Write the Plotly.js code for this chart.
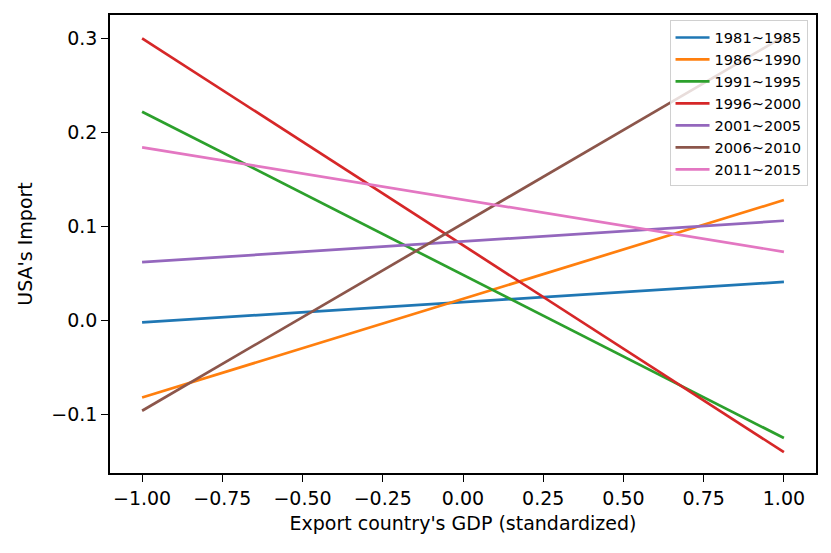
<!DOCTYPE html>
<html>
<head>
<meta charset="utf-8">
<script src="https://cdn.plot.ly/plotly-3.0.1.min.js"></script>
<style>
  body { margin: 0; background: #fff; }
  #grafico { width: 831px; height: 553px; }
</style>
</head>
<body>
<div id="grafico"></div>
<script>
// GDP estandarizado en los extremos
var equis = [-1, 1];

var periodos = ["1981~1985", "1986~1990", "1991~1995", "1996~2000",
                "2001~2005", "2006~2010", "2011~2015"];

var y8185 = [-0.002, 0.041];
var y8690 = [-0.082, 0.128];
var y9195 = [0.222, -0.125];
var y9600 = [0.300, -0.140];
var y0105 = [0.062, 0.106];
var y0610 = [-0.096, 0.302];
var y1115 = [0.184, 0.073];

var series = [y8185, y8690, y9195, y9600, y0105, y0610, y1115];
var colores = ["#1f77b4", "#ff7f0e", "#2ca02c", "#d62728",
               "#9467bd", "#8c564b", "#e377c2"];

var data = [];
for (let i = 0; i < series.length; i++) {
  data.push({
    x: equis,
    y: series[i],
    type: 'scatter',
    mode: 'lines',
    name: periodos[i],
    line: {color: colores[i], width: 2.7}
  });
}

var fuente = "DejaVu Sans, sans-serif";

var layout = {
  width: 831,
  height: 553,
  margin: {l: 110, r: 15, t: 15, b: 80},
  paper_bgcolor: "#fff",
  plot_bgcolor: "#fff",
  font: {family: fuente, size: 19, color: "#000"},
  showlegend: true,
  legend: {
    x: 0.988, y: 0.988, xanchor: "right", yanchor: "top",
    bgcolor: "rgba(255,255,255,0.8)",
    bordercolor: "#d0d0d0", borderwidth: 1,
    font: {family: fuente, size: 14.6, color: "#000"},
    itemwidth: 34,
    tracegroupgap: 0
  },
  xaxis: {
    range: [-1.1, 1.1],
    tickvals: [-1, -0.75, -0.5, -0.25, 0, 0.25, 0.5, 0.75, 1],
    tickformat: ".2f",
    ticks: "outside", ticklen: 7, tickwidth: 1.3, tickcolor: "#000",
    showgrid: false, zeroline: false,
    showline: true, mirror: true, linecolor: "#000", linewidth: 1.5,
    tickfont: {size: 19},
    title: {text: "Export country's GDP (standardized)", font: {size: 19}, standoff: 9}
  },
  yaxis: {
    range: [-0.1622, 0.3248],
    tickvals: [-0.1, 0, 0.1, 0.2, 0.3],
    tickformat: ".1f",
    ticks: "outside", ticklen: 7, tickwidth: 1.3, tickcolor: "#000",
    showgrid: false, zeroline: false,
    showline: true, mirror: true, linecolor: "#000", linewidth: 1.5,
    tickfont: {size: 19},
    title: {text: "USA's Import", font: {size: 19}, standoff: 14}
  }
};

Plotly.newPlot("grafico", data, layout, {displayModeBar: false});
</script>
</body>
</html>
